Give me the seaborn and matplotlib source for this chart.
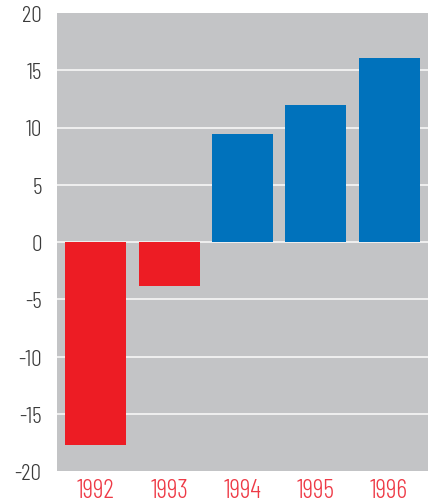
import matplotlib
matplotlib.use("Agg")
import matplotlib.pyplot as plt
import seaborn as sns
import pandas as pd

years = ["1992", "1993", "1994", "1995", "1996"]
values = [-17.7, -3.8, 9.4, 12.0, 16.1]
signs = ["neg" if v < 0 else "pos" for v in values]
yticks = [-20, -15, -10, -5, 0, 5, 10, 15, 20]

df = pd.DataFrame({"year": years, "value": values, "sign": signs})

sns.set_style("white")
plt.rcParams["font.family"] = ["Barlow Condensed", "DejaVu Sans"]
plt.rcParams["font.weight"] = 300

fig = plt.figure(figsize=(4.32, 5.02), dpi=100)
ax = fig.add_axes([57 / 432, 30 / 502, 371 / 432, 458 / 502])
ax.set_facecolor("#c3c4c6")

sns.barplot(data=df, x="year", y="value", hue="sign",
            palette={"neg": "#ed1c24", "pos": "#0072bc"},
            dodge=False, width=0.83, saturation=1, linewidth=0,
            legend=False, ax=ax, zorder=3)

for t in yticks[1:-1]:
    ax.axhline(t, color="#f0f0f0", lw=1.4, zorder=2)

ax.set_ylim(-20, 20)
ax.set_xlim(-0.53, 4.53)
ax.set_yticks(yticks)
ax.set_yticklabels([str(t) for t in yticks])
ax.set_xlabel("")
ax.set_ylabel("")
for s in ax.spines.values():
    s.set_visible(False)
ax.tick_params(axis="y", length=0, pad=11, labelsize=17, labelcolor="#3a3a3a")
ax.tick_params(axis="x", length=0, pad=5, labelsize=19, labelcolor="#ee3a46")

fig.savefig("out.png", dpi=100)
